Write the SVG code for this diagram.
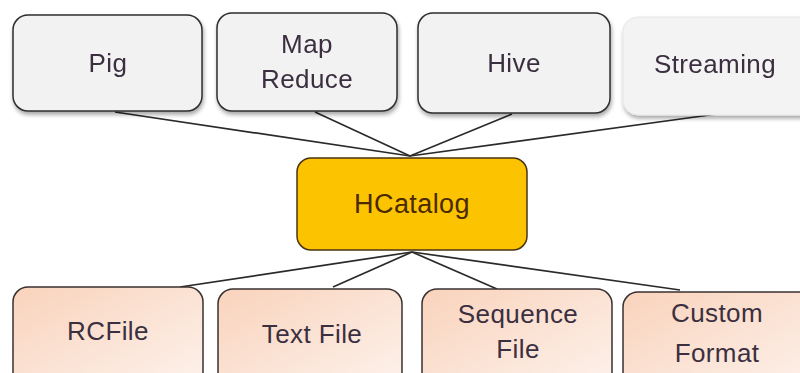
<svg xmlns="http://www.w3.org/2000/svg" width="800" height="373" viewBox="0 0 800 373">
<defs>
<filter id="sh" x="-10%" y="-10%" width="125%" height="130%">
<feGaussianBlur in="SourceAlpha" stdDeviation="2"/>
<feOffset dx="1" dy="3" result="b"/>
<feComponentTransfer><feFuncA type="linear" slope="0.35"/></feComponentTransfer>
<feMerge><feMergeNode/><feMergeNode in="SourceGraphic"/></feMerge>
</filter>
<linearGradient id="peach" x1="0" y1="0" x2="1" y2="1">
<stop offset="0" stop-color="#f9d3bc"/>
<stop offset="1" stop-color="#fdf2ec"/>
</linearGradient>
</defs>
<style>
.top{fill:#f2f2f2;stroke:#2e2e2e;stroke-width:1.5}
.stream{fill:#f3f3f3;stroke:#e6e6e6;stroke-width:1}
.bot{fill:url(#peach);stroke:#3a3030;stroke-width:1.5}
.hc{fill:#fcc400;stroke:#4a3410;stroke-width:1.5}
.t{font-family:"Liberation Sans",Arial,sans-serif;font-size:26px;letter-spacing:0.4px;fill:#3b2f40;text-anchor:middle}
.th{font-family:"Liberation Sans",Arial,sans-serif;font-size:27px;letter-spacing:0.4px;fill:#4a2a00;text-anchor:middle}
.c line{stroke:#2a2a2a;stroke-width:1.7}
</style>
<rect width="800" height="373" fill="#ffffff"/>
<g class="c" id="connectors">
<line x1="115" y1="112" x2="410" y2="156"/>
<line x1="315" y1="112" x2="410" y2="156"/>
<line x1="512" y1="114" x2="410" y2="156"/>
<line x1="717" y1="114" x2="410" y2="156"/>
<line x1="412" y1="252" x2="180" y2="287"/>
<line x1="412" y1="252" x2="333" y2="287"/>
<line x1="412" y1="252" x2="497" y2="289"/>
<line x1="412" y1="252" x2="680" y2="290"/>
</g>
<g id="pig" filter="url(#sh)"><rect class="top" x="13" y="15" width="189" height="96" rx="15"/><text class="t" x="108" y="72">Pig</text></g>
<g id="mapreduce" filter="url(#sh)"><rect class="top" x="217" y="13" width="180" height="98" rx="15"/><text class="t" x="307" y="53">Map</text><text class="t" x="307" y="88">Reduce</text></g>
<g id="hive" filter="url(#sh)"><rect class="top" x="418" y="13" width="192" height="100" rx="15"/><text class="t" x="514" y="72">Hive</text></g>
<g id="streaming" filter="url(#sh)"><rect class="stream" x="623" y="17" width="195" height="98" rx="15"/><text class="t" x="715" y="73">Streaming</text></g>
<g id="hcatalog"><rect class="hc" x="297" y="158" width="230" height="92" rx="14"/><text class="th" x="412" y="213">HCatalog</text></g>
<g id="rcfile"><rect class="bot" x="13" y="287" width="190" height="100" rx="15"/><text class="t" x="108" y="340">RCFile</text></g>
<g id="textfile"><rect class="bot" x="218" y="289" width="184" height="100" rx="15"/><text class="t" x="312" y="343">Text File</text></g>
<g id="sequencefile"><rect class="bot" x="422" y="289" width="190" height="100" rx="15"/><text class="t" x="518" y="323">Sequence</text><text class="t" x="518" y="358">File</text></g>
<g id="customformat"><rect class="bot" x="623" y="292" width="195" height="100" rx="15"/><text class="t" x="717" y="322">Custom</text><text class="t" x="717" y="362">Format</text></g>
</svg>
